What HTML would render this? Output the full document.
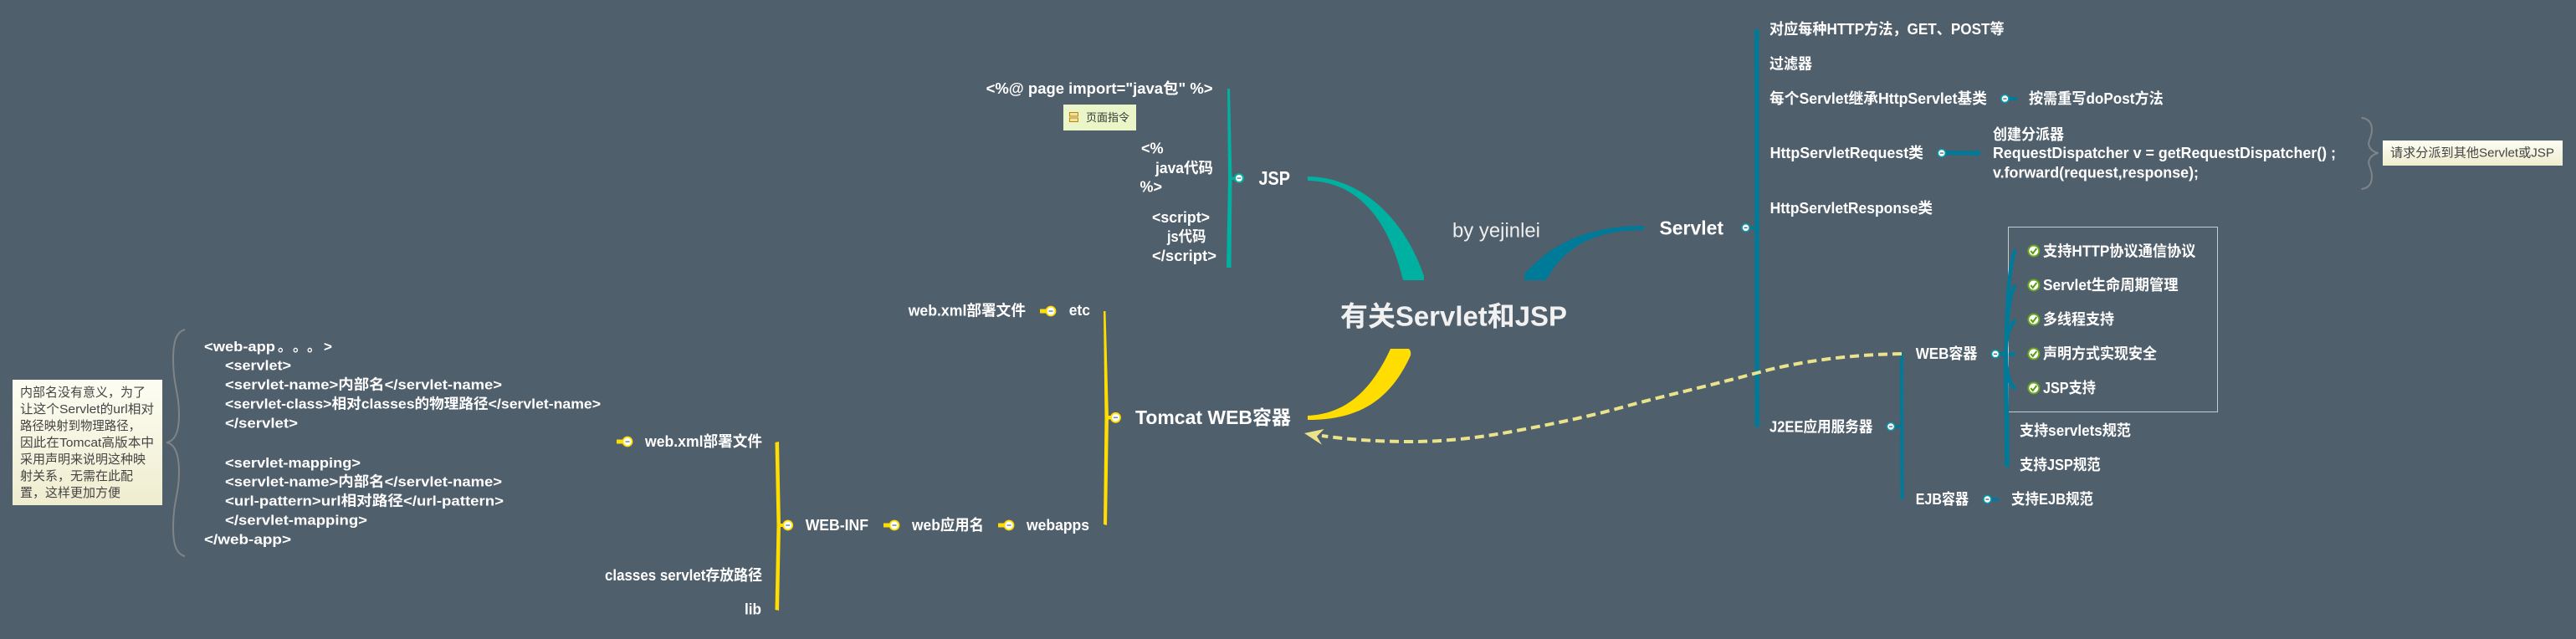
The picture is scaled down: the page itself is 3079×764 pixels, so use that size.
<!DOCTYPE html>
<html><head><meta charset="utf-8"><style>
html,body{margin:0;padding:0;background:#505f6c;width:3079px;height:764px;overflow:hidden}
svg{display:block}
text{font-family:"Liberation Sans","Noto Sans CJK SC",sans-serif;dominant-baseline:central;white-space:pre}
.w{fill:#fff;font-weight:700;font-size:18px}
.c{fill:#fff;font-weight:700;font-size:17px}
.n{fill:#444;font-size:15px}
.b{fill:#fff;font-weight:700;font-size:23px}
</style></head><body>
<svg width="3079" height="764" viewBox="0 0 3079 764" xmlns="http://www.w3.org/2000/svg">
<rect width="3079" height="764" fill="#505f6c"/>
<defs>
<linearGradient id="ng" x1="0" y1="0" x2="0" y2="1"><stop offset="0" stop-color="#fdfdf3"/><stop offset="1" stop-color="#efedcf"/></linearGradient>
</defs>

<!-- main curves -->
<path d="M1563 211 C1630 212 1680 265 1702 330 L1702 335 L1677 335 C1660 265 1625 217 1563 216 Z" fill="#00b0a0"/>
<path d="M1965 270 C1900 270 1855 290 1822 328 L1822 335 L1848 335 C1870 295 1905 275 1965 275 Z" fill="#007a99"/>
<path d="M1563 497 C1610 495 1640 465 1662 417 L1684 417 Q1687 420 1686 425 C1662 478 1625 502 1563 502 Z" fill="#ffdd00"/>

<!-- teal JSP -->
<path d="M1467 106 L1470 106 L1472.500 213 L1471.500 320 L1466 320 L1468 213 Z" fill="#00b0a0"/>
<rect x="1470" y="211.500" width="11" height="3.500" fill="#00b0a0"/>
<circle cx="1481" cy="213" r="5" fill="#fff" stroke="#00b0a0" stroke-width="2"/><rect x="1478.500" y="212.300" width="5" height="1.500" fill="#6c8c99"/>

<!-- yellow Tomcat -->
<path d="M1319 372 L1321.500 372 L1325 499 L1323 628 L1319 627 L1320.500 499 Z" fill="#ffdd00"/>
<rect x="1322" y="497" width="12" height="4.500" fill="#ffdd00"/>
<circle cx="1333.500" cy="499.300" r="5.500" fill="#fff" stroke="#ffdd00" stroke-width="1.800"/><rect x="1331" y="498.500" width="5" height="1.500" fill="#7a86a0"/>
<rect x="1243" y="369.500" width="12" height="5" fill="#ffdd00"/>
<circle cx="1256" cy="372" r="5.500" fill="#fff" stroke="#ffdd00" stroke-width="1.800"/><rect x="1253.500" y="371.300" width="5" height="1.500" fill="#7a86a0"/>
<rect x="1193" y="625.500" width="12" height="5" fill="#ffdd00"/>
<circle cx="1206" cy="628" r="5.500" fill="#fff" stroke="#ffdd00" stroke-width="1.800"/><rect x="1203.500" y="627.300" width="5" height="1.500" fill="#7a86a0"/>
<rect x="1056" y="625.500" width="12" height="5" fill="#ffdd00"/>
<circle cx="1069" cy="628" r="5.500" fill="#fff" stroke="#ffdd00" stroke-width="1.800"/><rect x="1066.500" y="627.300" width="5" height="1.500" fill="#7a86a0"/>
<path d="M926.500 529 L931 528 L933 628 L931 730 L926.500 729 L928.500 628 Z" fill="#ffdd00"/>
<rect x="929" y="626" width="12" height="4" fill="#ffdd00"/>
<circle cx="941.700" cy="628" r="5.500" fill="#fff" stroke="#ffdd00" stroke-width="1.800"/><rect x="939.200" y="627.300" width="5" height="1.500" fill="#7a86a0"/>
<rect x="737" y="525.500" width="12" height="5" fill="#ffdd00"/>
<circle cx="750" cy="528" r="5.500" fill="#fff" stroke="#ffdd00" stroke-width="1.800"/><rect x="747.500" y="527.300" width="5" height="1.500" fill="#7a86a0"/>

<!-- blue Servlet -->
<path d="M2097 35 L2102.500 35 L2103 510 L2097.500 511 Z" fill="#007a99"/>
<rect x="2087" y="271" width="12" height="3" fill="#007a99"/>
<circle cx="2086.600" cy="272.300" r="4.500" fill="#fff" stroke="#00a0b0" stroke-width="1.500"/><rect x="2084.600" y="271.700" width="4" height="1.300" fill="#557"/>
<rect x="2398" y="116" width="13" height="4" fill="#007a99"/>
<circle cx="2396.400" cy="118" r="4.500" fill="#fff" stroke="#00a0b0" stroke-width="1.500"/><rect x="2394.400" y="117.400" width="4" height="1.300" fill="#557"/>
<path d="M2326 180.500 L2362 180.500 L2362 178 L2368 183 L2362 188 L2362 185.500 L2326 185.500 Z" fill="#007a99"/>
<circle cx="2320.800" cy="183" r="4.500" fill="#fff" stroke="#00a0b0" stroke-width="1.500"/><rect x="2318.800" y="182.400" width="4" height="1.300" fill="#557"/>
<rect x="2261" y="508.500" width="12" height="3" fill="#007a99"/>
<circle cx="2260" cy="510" r="4.500" fill="#fff" stroke="#00a0b0" stroke-width="1.500"/><rect x="2258" y="509.400" width="4" height="1.300" fill="#557"/>
<path d="M2271 423 L2275 423 L2275.500 598 L2271.500 597 Z" fill="#007a99"/>
<rect x="2386" y="421" width="23" height="4.500" fill="#007a99"/>
<circle cx="2385" cy="423.300" r="4.500" fill="#fff" stroke="#00a0b0" stroke-width="1.500"/><rect x="2383" y="422.700" width="4" height="1.300" fill="#557"/>
<rect x="2376" y="595" width="13" height="4" fill="#007a99"/>
<circle cx="2375.400" cy="597" r="4.500" fill="#fff" stroke="#00a0b0" stroke-width="1.500"/><rect x="2373.400" y="596.400" width="4" height="1.300" fill="#557"/>

<rect x="2400.500" y="271.500" width="250" height="221" fill="none" stroke="#c4ccd2" stroke-width="1"/>
<g fill="none" stroke="#007a99" stroke-width="4.500" stroke-linecap="round">
<path d="M2408 300 C2402 320 2399 350 2397.500 423"/>
<path d="M2408 343 C2402 350 2399 380 2397.500 423"/>
<path d="M2408 384 C2402 390 2398 400 2397.500 423"/>
<path d="M2408 464 C2402 460 2398 445 2397.500 423"/>
<path d="M2397.500 423 L2399 556" stroke-width="5.500"/>
</g>

<!-- check icons -->
<g>
<g transform="translate(2430.800,300)"><circle r="6.500" fill="#fff" stroke="#6aa51e" stroke-width="2"/><path d="M-3.500 0 L-1 3 L3.500 -3" fill="none" stroke="#5c9a18" stroke-width="2"/></g>
<g transform="translate(2430.800,341)"><circle r="6.500" fill="#fff" stroke="#6aa51e" stroke-width="2"/><path d="M-3.500 0 L-1 3 L3.500 -3" fill="none" stroke="#5c9a18" stroke-width="2"/></g>
<g transform="translate(2430.800,382)"><circle r="6.500" fill="#fff" stroke="#6aa51e" stroke-width="2"/><path d="M-3.500 0 L-1 3 L3.500 -3" fill="none" stroke="#5c9a18" stroke-width="2"/></g>
<g transform="translate(2430.800,423)"><circle r="6.500" fill="#fff" stroke="#6aa51e" stroke-width="2"/><path d="M-3.500 0 L-1 3 L3.500 -3" fill="none" stroke="#5c9a18" stroke-width="2"/></g>
<g transform="translate(2430.800,464)"><circle r="6.500" fill="#fff" stroke="#6aa51e" stroke-width="2"/><path d="M-3.500 0 L-1 3 L3.500 -3" fill="none" stroke="#5c9a18" stroke-width="2"/></g>
</g>

<!-- dashed relation -->
<path d="M2273 423 C2210 424 2150 432 2099.500 446 C2040 462 1990 473 1946 485 C1900 498 1860 506 1812.500 515 C1770 523 1730 528 1687.500 528 C1650 528 1615 526 1580 521" fill="none" stroke="#ebe38c" stroke-width="4" stroke-dasharray="11 6"/>
<path d="M1559 518 L1582.600 513 L1574 521.700 L1580 531.700 Z" fill="#ebe38c"/>

<!-- braces -->
<path d="M221 394 C210 397 207 410 207 430 C207 460 214 470 214 495 C214 515 210 527 199 529 C210 531 214 545 214 565 C214 590 207 600 207 630 C207 650 210 662 221 665" fill="none" stroke="#7f8487" stroke-width="2"/>
<path d="M2822.600 140.700 C2832 142 2835 148 2835 155 C2835 165 2829 170 2832 175 C2834 180 2838 182 2842.700 183 C2838 184 2834 186 2832 191 C2829 196 2835 201 2835 211 C2835 219 2832 225 2822.600 226" fill="none" stroke="#7f8487" stroke-width="2"/>

<!-- notes -->
<rect x="15" y="454" width="179" height="150" fill="url(#ng)"/>
<text class="n" x="24" y="469.300" textLength="150" lengthAdjust="spacingAndGlyphs">内部名没有意义，为了</text>
<text class="n" x="24" y="489.300" textLength="160" lengthAdjust="spacingAndGlyphs">让这个Servlet的url相对</text>
<text class="n" x="24" y="509.300" textLength="144" lengthAdjust="spacingAndGlyphs">路径映射到物理路径，</text>
<text class="n" x="24" y="529.300" textLength="160" lengthAdjust="spacingAndGlyphs">因此在Tomcat高版本中</text>
<text class="n" x="24" y="549.300" textLength="150" lengthAdjust="spacingAndGlyphs">采用声明来说明这种映</text>
<text class="n" x="24" y="569.300" textLength="135" lengthAdjust="spacingAndGlyphs">射关系，无需在此配</text>
<text class="n" x="24" y="589.300" textLength="120" lengthAdjust="spacingAndGlyphs">置，这样更加方便</text>

<rect x="2848" y="168" width="215" height="30" fill="url(#ng)"/>
<text class="n" x="2857" y="183" textLength="196" lengthAdjust="spacingAndGlyphs">请求分派到其他Servlet或JSP</text>

<rect x="1271" y="125" width="87" height="31" fill="#eaf5c8"/>
<rect x="1278.500" y="134.500" width="10" height="4.500" fill="#f3dfa0" stroke="#b8860b"/>
<rect x="1278.500" y="141" width="10" height="4.500" fill="#f3dfa0" stroke="#b8860b"/>
<text x="1298" y="140.700" font-size="13" fill="#333" textLength="52" lengthAdjust="spacingAndGlyphs">页面指令</text>

<!-- code -->
<text class="c" x="244" y="414.300" textLength="85" lengthAdjust="spacingAndGlyphs">&lt;web-app</text>
<text class="c" x="332" y="414.300">。</text>
<text class="c" x="350" y="414.300">。</text>
<text class="c" x="367" y="414.300">。</text>
<text class="c" x="387" y="414.300">&gt;</text>
<text class="c" x="269" y="437" textLength="79" lengthAdjust="spacingAndGlyphs">&lt;servlet&gt;</text>
<text class="c" x="269" y="460" textLength="331" lengthAdjust="spacingAndGlyphs">&lt;servlet-name&gt;内部名&lt;/servlet-name&gt;</text>
<text class="c" x="269" y="483" textLength="449" lengthAdjust="spacingAndGlyphs">&lt;servlet-class&gt;相对classes的物理路径&lt;/servlet-name&gt;</text>
<text class="c" x="269" y="506" textLength="87" lengthAdjust="spacingAndGlyphs">&lt;/servlet&gt;</text>
<text class="c" x="269" y="553.300" textLength="162" lengthAdjust="spacingAndGlyphs">&lt;servlet-mapping&gt;</text>
<text class="c" x="269" y="576" textLength="331" lengthAdjust="spacingAndGlyphs">&lt;servlet-name&gt;内部名&lt;/servlet-name&gt;</text>
<text class="c" x="269" y="599" textLength="333" lengthAdjust="spacingAndGlyphs">&lt;url-pattern&gt;url相对路径&lt;/url-pattern&gt;</text>
<text class="c" x="269" y="622" textLength="170" lengthAdjust="spacingAndGlyphs">&lt;/servlet-mapping&gt;</text>
<text class="c" x="244" y="645" textLength="104" lengthAdjust="spacingAndGlyphs">&lt;/web-app&gt;</text>

<!-- Tomcat tree text -->
<text class="w" x="771" y="528" textLength="140" lengthAdjust="spacingAndGlyphs">web.xml部署文件</text>
<text class="w" x="723" y="688" textLength="188" lengthAdjust="spacingAndGlyphs">classes servlet存放路径</text>
<text class="w" x="890" y="728.700" textLength="20" lengthAdjust="spacingAndGlyphs">lib</text>
<text class="w" x="962.700" y="628" textLength="75.300" lengthAdjust="spacingAndGlyphs">WEB-INF</text>
<text class="w" x="1090" y="628" textLength="86" lengthAdjust="spacingAndGlyphs">web应用名</text>
<text class="w" x="1227" y="628" textLength="75" lengthAdjust="spacingAndGlyphs">webapps</text>
<text class="w" x="1085.700" y="371.700" textLength="140.300" lengthAdjust="spacingAndGlyphs">web.xml部署文件</text>
<text class="w" x="1277.700" y="371" textLength="25.300" lengthAdjust="spacingAndGlyphs">etc</text>
<text class="b" x="1357" y="499" textLength="186" lengthAdjust="spacingAndGlyphs">Tomcat WEB容器</text>

<!-- JSP tree text -->
<text class="w" x="1178.600" y="106" textLength="271" lengthAdjust="spacingAndGlyphs">&lt;%@ page import="java包" %&gt;</text>
<text class="w" x="1364" y="177.700" textLength="26.600" lengthAdjust="spacingAndGlyphs">&lt;%</text>
<text class="w" x="1381" y="201" textLength="69" lengthAdjust="spacingAndGlyphs">java代码</text>
<text class="w" x="1362.500" y="223.700" textLength="26.500" lengthAdjust="spacingAndGlyphs">%&gt;</text>
<text class="w" x="1377" y="260" textLength="69" lengthAdjust="spacingAndGlyphs">&lt;script&gt;</text>
<text class="w" x="1395" y="283" textLength="46.500" lengthAdjust="spacingAndGlyphs">js代码</text>
<text class="w" x="1377" y="306" textLength="77" lengthAdjust="spacingAndGlyphs">&lt;/script&gt;</text>
<text class="b" x="1504.500" y="213" textLength="37.500" lengthAdjust="spacingAndGlyphs">JSP</text>

<!-- center -->
<text x="1602" y="378" font-size="33" font-weight="700" fill="#f1f1f1" textLength="271" lengthAdjust="spacingAndGlyphs">有关Servlet和JSP</text>
<text x="1736" y="276" font-size="24" fill="#eeeeee" textLength="105" lengthAdjust="spacingAndGlyphs">by yejinlei</text>

<!-- Servlet tree text -->
<text class="b" x="1983.500" y="272.700" textLength="76.500" lengthAdjust="spacingAndGlyphs">Servlet</text>
<text class="w" x="2115" y="35" textLength="280.600" lengthAdjust="spacingAndGlyphs">对应每种HTTP方法，GET、POST等</text>
<text class="w" x="2115" y="76.700" textLength="51" lengthAdjust="spacingAndGlyphs">过滤器</text>
<text class="w" x="2115" y="118" textLength="260" lengthAdjust="spacingAndGlyphs">每个Servlet继承HttpServlet基类</text>
<text class="w" x="2425" y="118" textLength="160.700" lengthAdjust="spacingAndGlyphs">按需重写doPost方法</text>
<text class="w" x="2115.600" y="183" textLength="183.400" lengthAdjust="spacingAndGlyphs">HttpServletRequest类</text>
<text class="w" x="2382" y="161" textLength="85" lengthAdjust="spacingAndGlyphs">创建分派器</text>
<text class="w" x="2382" y="183" textLength="410" lengthAdjust="spacingAndGlyphs">RequestDispatcher v = getRequestDispatcher() ;</text>
<text class="w" x="2382" y="206.700" textLength="246" lengthAdjust="spacingAndGlyphs">v.forward(request,response);</text>
<text class="w" x="2115.600" y="249" textLength="194.400" lengthAdjust="spacingAndGlyphs">HttpServletResponse类</text>
<text class="w" x="2115" y="510.700" textLength="123.400" lengthAdjust="spacingAndGlyphs">J2EE应用服务器</text>
<text class="w" x="2289.700" y="423" textLength="73.700" lengthAdjust="spacingAndGlyphs">WEB容器</text>
<text class="w" x="2289.700" y="597" textLength="63.300" lengthAdjust="spacingAndGlyphs">EJB容器</text>
<text class="w" x="2404" y="597" textLength="98" lengthAdjust="spacingAndGlyphs">支持EJB规范</text>
<text class="w" x="2442" y="300.300" textLength="182.500" lengthAdjust="spacingAndGlyphs">支持HTTP协议通信协议</text>
<text class="w" x="2442" y="341" textLength="161.600" lengthAdjust="spacingAndGlyphs">Servlet生命周期管理</text>
<text class="w" x="2442" y="382" textLength="85" lengthAdjust="spacingAndGlyphs">多线程支持</text>
<text class="w" x="2442" y="423" textLength="136" lengthAdjust="spacingAndGlyphs">声明方式实现安全</text>
<text class="w" x="2442" y="464" textLength="63" lengthAdjust="spacingAndGlyphs">JSP支持</text>
<text class="w" x="2414" y="515" textLength="133" lengthAdjust="spacingAndGlyphs">支持servlets规范</text>
<text class="w" x="2414" y="556" textLength="96.700" lengthAdjust="spacingAndGlyphs">支持JSP规范</text>
</svg>
</body></html>
